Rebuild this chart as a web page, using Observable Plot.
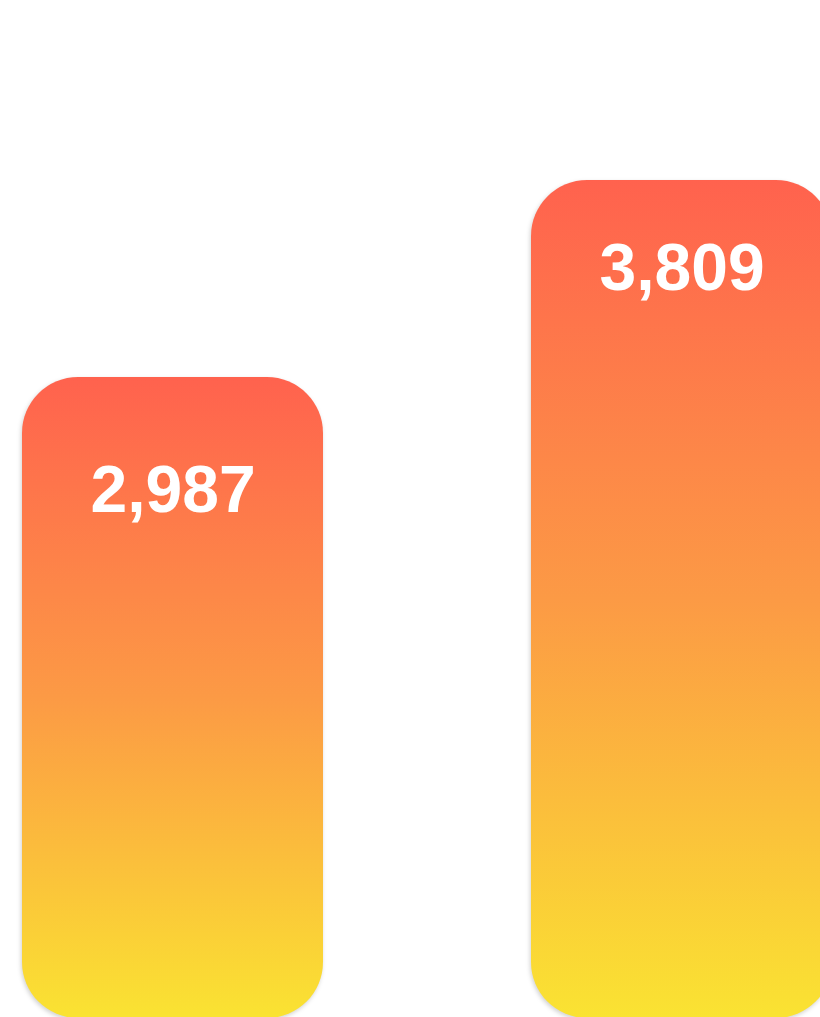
<!DOCTYPE html>
<html>
<head>
<meta charset="utf-8">
<script src="https://cdn.jsdelivr.net/npm/d3@7"></script>
<script src="https://cdn.jsdelivr.net/npm/@observablehq/plot@0.6"></script>
<style>
  html, body { margin: 0; padding: 0; background: #fff; overflow: hidden; }
  #chart svg g[aria-label="bar"] rect { filter: drop-shadow(-1px 2px 2px rgba(0,0,0,0.18)); }
</style>
</head>
<body>
<div id="chart"></div>
<script>
const categories = ["A", "B"];
const values = [2987, 3809];
const gradientStops = ["#FF624E", "#FC9A45", "#FAE332"];

const data = categories.map((c, i) => ({category: c, value: values[i]}));
const fmt = d3.format(",");

const labelMark = (idx, dy) => Plot.text(data.filter((d, i) => i === idx), {
  x: "category",
  y: "value",
  text: d => fmt(d.value),
  dy,
  fill: "white",
  fontSize: 66,
  fontWeight: "bold",
  fontFamily: "Liberation Sans, Arial, Helvetica, sans-serif"
});

const chart = Plot.plot({
  width: 820,
  height: 1017,
  marginTop: 0, marginRight: 0, marginBottom: 0, marginLeft: 0,
  x: {domain: categories, range: [-186, 1040], padding: 0.4086, axis: null},
  y: {domain: [0, 4560], range: [1093, 0], axis: null},
  style: {background: "white"},
  marks: [
    Plot.barY(data, {
      x: "category",
      y: "value",
      fill: "url(#barGrad)",
      rx: 56,
      insetBottom: 75
    }),
    labelMark(0, 113),
    labelMark(1, 88)
  ]
});

const svg = d3.select(chart);
const defs = svg.insert("defs", ":first-child");
const grad = defs.append("linearGradient")
  .attr("id", "barGrad")
  .attr("x1", 0).attr("y1", 0).attr("x2", 0).attr("y2", 1);
gradientStops.forEach((c, i) => {
  grad.append("stop")
    .attr("offset", i / (gradientStops.length - 1))
    .attr("stop-color", c);
});

document.getElementById("chart").appendChild(chart);
</script>
</body>
</html>
